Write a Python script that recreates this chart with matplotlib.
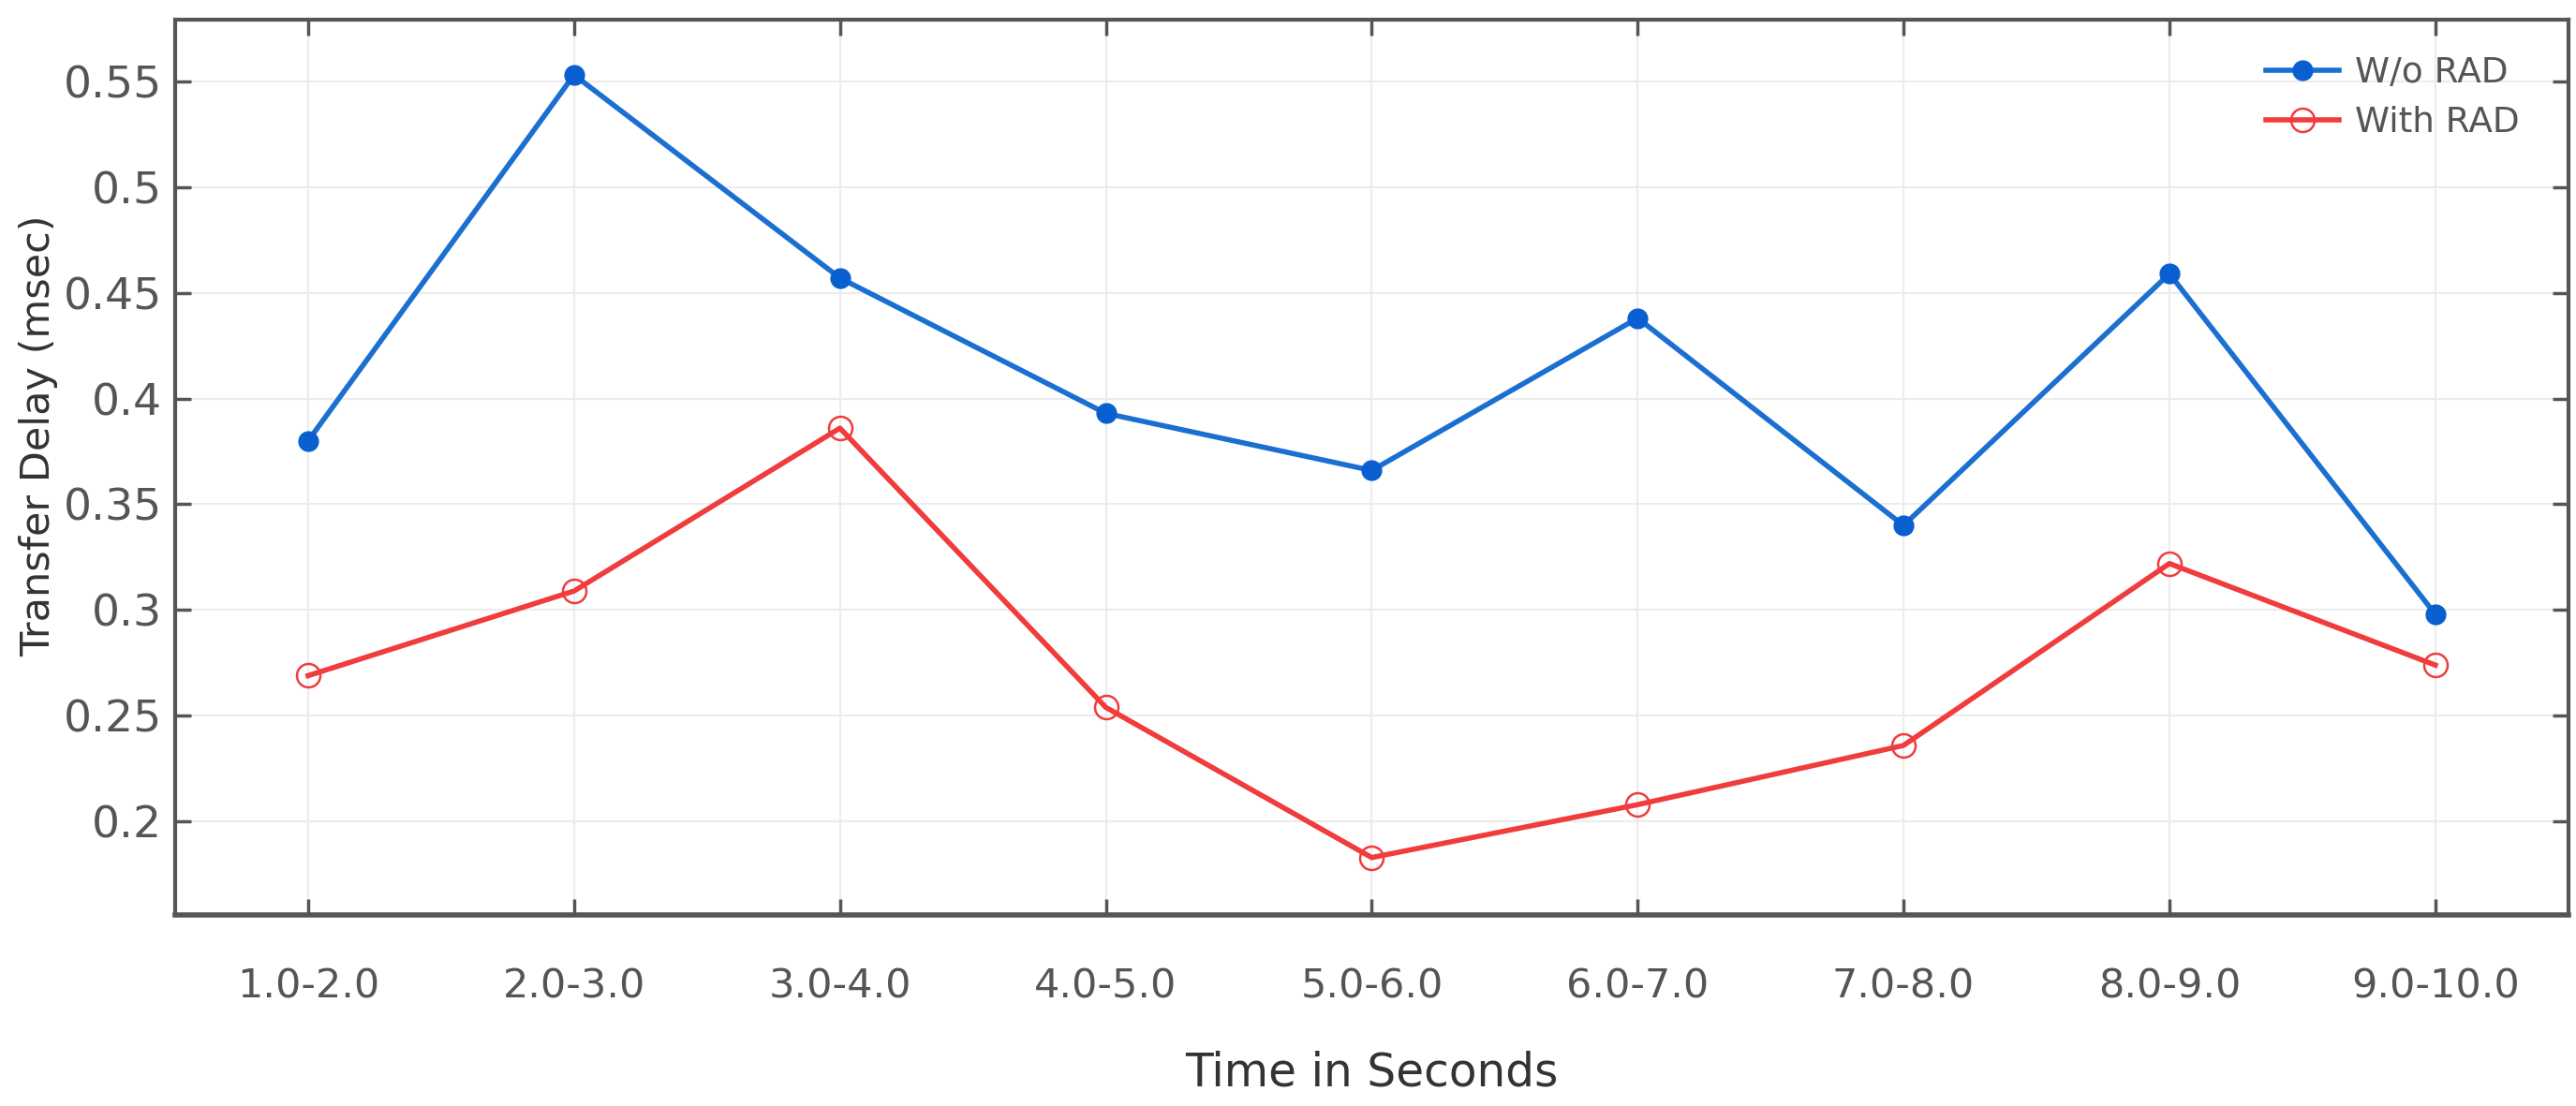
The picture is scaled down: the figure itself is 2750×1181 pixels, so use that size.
import matplotlib
matplotlib.use("Agg")
import matplotlib.pyplot as plt
import numpy as np

categories = ["1.0-2.0", "2.0-3.0", "3.0-4.0", "4.0-5.0", "5.0-6.0",
              "6.0-7.0", "7.0-8.0", "8.0-9.0", "9.0-10.0"]
without_rad = [0.380, 0.553, 0.457, 0.393, 0.366, 0.438, 0.340, 0.459, 0.298]
with_rad = [0.269, 0.309, 0.386, 0.254, 0.183, 0.208, 0.236, 0.322, 0.274]
yticks = [0.2, 0.25, 0.3, 0.35, 0.4, 0.45, 0.5, 0.55]
ytick_labels = ["0.2", "0.25", "0.3", "0.35", "0.4", "0.45", "0.5", "0.55"]

plt.rcParams['font.family'] = ['DejaVu Sans']

fig = plt.figure(figsize=(27.5, 11.81), dpi=100)
ax = fig.add_axes([0.068, 0.173, 0.929, 0.809])

x = np.arange(len(categories))
ax.plot(x, without_rad, color='#1a6fd0', lw=4, marker='o', ms=15,
        mfc='#0a5fd0', mec='#0a5fd0', label='W/o RAD', zorder=3)
ax.plot(x, with_rad, color='#f03c3c', lw=4, marker='o', ms=18,
        mfc='none', mec='#f03c3c', mew=1.8, label='With RAD', zorder=3)

ax.set_xlim(-0.5, len(categories) - 0.5)
ax.set_ylim(0.156, 0.579)
ax.set_xticks(x)
ax.set_xticklabels(categories)
ax.set_yticks(yticks)
ax.set_yticklabels(ytick_labels)

ax.grid(True, color='#ececec', lw=1.5)
ax.set_axisbelow(True)
for s in ax.spines.values():
    s.set_color('#555555')
    s.set_linewidth(3)
ax.spines['bottom'].set_linewidth(4)
ax.tick_params(direction='in', length=12, width=2.5, color='#555555',
               labelcolor='#555555', top=True, right=True)
ax.tick_params(axis='x', labelsize=31, pad=40)
ax.tick_params(axis='y', labelsize=34, pad=10)

ax.set_xlabel('Time in Seconds', fontsize=35, color='#333333', labelpad=34)
ax.set_ylabel('Transfer Delay (msec)', fontsize=31, color='#333333')
ax.yaxis.set_label_coords(-0.049, 0.535)

leg = ax.legend(loc='upper right', frameon=False, fontsize=27,
                handlelength=2.1, handletextpad=0.45, labelcolor='#555555',
                bbox_to_anchor=(0.993, 0.995), labelspacing=0.45)

fig.savefig('out.png', dpi=100)
